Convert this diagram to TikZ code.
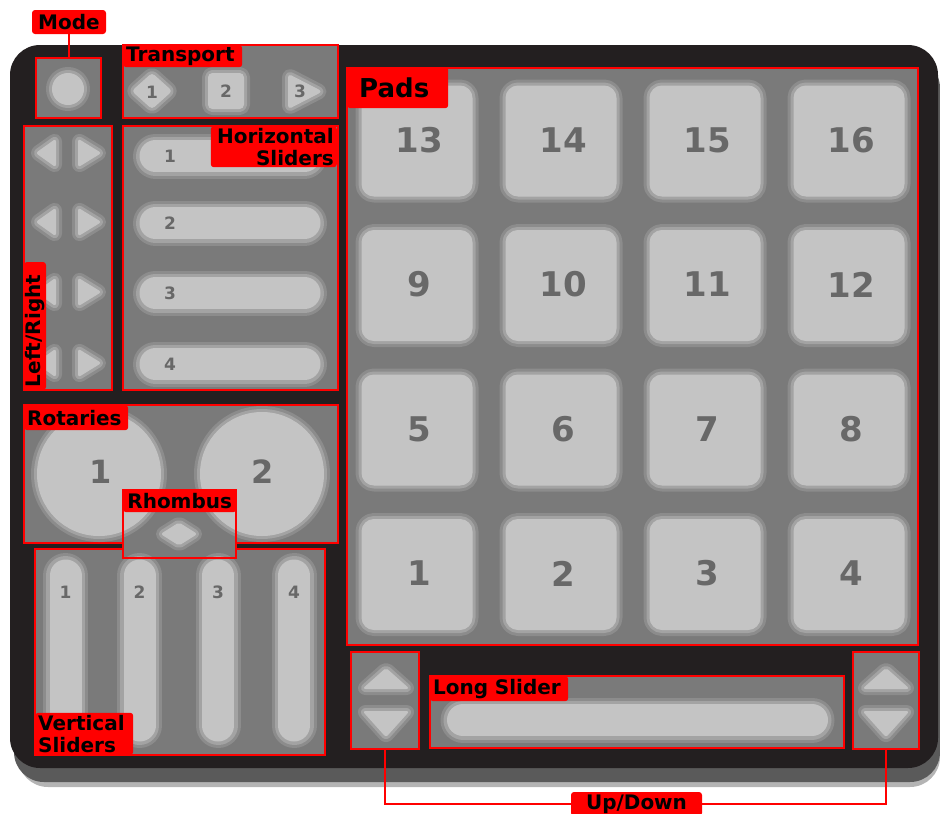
\documentclass[tikz,border=0pt]{standalone}
\usepackage{fontspec}
\setmainfont{DejaVu Sans}
\usetikzlibrary{fit}
\definecolor{bodyc}{HTML}{231F20}
\definecolor{shadowc}{HTML}{5A5A5A}
\definecolor{shadowl}{HTML}{B4B4B4}
\definecolor{panelc}{HTML}{7A7A7A}
\definecolor{ringA}{HTML}{8C8C8C}
\definecolor{ringB}{HTML}{A3A3A3}
\definecolor{lightc}{HTML}{C4C4C4}
\definecolor{numc}{HTML}{686868}
\definecolor{redc}{HTML}{FF0000}
\newcommand\mylabfont{\fontsize{20}{22}\selectfont\bfseries}
\newcommand\mypadlabfont{\fontsize{26}{28}\selectfont\bfseries}
\newcommand\mypadnumfont{\fontsize{34}{36}\selectfont\bfseries}
\newcommand\myrotnumfont{\fontsize{32}{34}\selectfont\bfseries}
\newcommand\mysmnumfont{\fontsize{17}{19}\selectfont\bfseries}
\newcommand\lay[1]{\path[layA] #1; \path[layB] #1; \path[layC] #1;}
\newcommand\stad[2]{\draw[stA] #1 -- #2; \draw[stB] #1 -- #2; \draw[stC] #1 -- #2;}
\begin{document}
\begin{tikzpicture}[x=1pt,y=-1pt,
  panel/.style={fill=panelc, draw=none, inner sep=0pt, outer sep=0pt},
  redline/.style={draw=redc, line width=2.3pt},
  lab/.style={fill=redc, rounded corners=3pt, inner xsep=3pt, inner ysep=0pt, font=\mylabfont, text=black},
  layA/.style={fill=ringA, draw=ringA, line width=13pt, line join=round},
  layB/.style={fill=ringB, draw=ringB, line width=7pt, line join=round},
  layC/.style={fill=lightc, draw=lightc, line width=1pt, line join=round},
  stA/.style={draw=ringA, line width=45pt, line cap=round},
  stB/.style={draw=ringB, line width=39pt, line cap=round},
  stC/.style={draw=lightc, line width=32pt, line cap=round},
  padnum/.style={text=numc, font=\mypadnumfont, inner sep=0pt},
  rotnum/.style={text=numc, font=\myrotnumfont, inner sep=0pt},
  smnum/.style={text=numc, font=\mysmnumfont, inner sep=0pt}]
\useasboundingbox (0,0) rectangle (940,814);
% body and shadow
\fill[shadowl, rounded corners=30pt] (18,62) rectangle (940,787);
\fill[shadowc, rounded corners=30pt] (14,58) rectangle (940,782);
\fill[bodyc, rounded corners=30pt] (10,45) rectangle (938,768);
% panels
\node[panel, fit={(36,58) (101,118)}] (modebox) {};
\node[panel, fit={(123,45) (338,118)}] (transbox) {};
\node[panel, fit={(24,126) (112,390)}] (lrbox) {};
\node[panel, fit={(123,126) (338,390)}] (hsbox) {};
\node[panel, fit={(24,405) (338,543)}] (rotbox) {};
\node[panel, fit={(35,549) (325,755)}] (vsbox) {};
\node[panel, fit={(347,68) (918,645)}] (padsbox) {};
\node[panel, fit={(351,652) (419,749)}] (udl) {};
\node[panel, fit={(430,676) (844,748)}] (lsbox) {};
\node[panel, fit={(853,652) (919,749)}] (udr) {};
\foreach \n in {modebox,transbox,lrbox,hsbox,rotbox,vsbox,padsbox,udl,lsbox,udr}
  \draw[redline] (\n.north west) rectangle (\n.south east);
\node[panel, fit={(123,490) (236,558)}] (rhbox) {};
% mode button
\lay{(68,89) circle[radius=15.5]}
% transport
\lay{[rounded corners=3pt] (132.5,91) -- (152,73.5) -- (171.5,91) -- (152,108.5) -- cycle}
\lay{[rounded corners=4pt] (208.5,73.5) rectangle (243.5,108.5)}
\lay{[rounded corners=3pt] (288.5,74.5) -- (321.5,91.5) -- (288.5,108.5) -- cycle}
\node[smnum] (t1) at (152,92) {1};
\node[smnum] (t2) at (226,91) {2};
\node[smnum] (t3) at (300,91) {3};
% left/right arrows
\foreach \y in {153,222,292,363}{
  \lay{[rounded corners=2pt] (36.5,\y) -- (55.5,{\y-13.5}) -- (55.5,{\y+13.5}) -- cycle}
  \lay{[rounded corners=2pt] (100.5,\y) -- (78.5,{\y-13.5}) -- (78.5,{\y+13.5}) -- cycle}
}
% horizontal sliders
\foreach \y/\k in {156/1,223/2,293/3,364/4}{
  \stad{(155.5,\y)}{(304.5,\y)}
  \node[smnum] (hs\k) at (170,\y) {\k};
}
% rotaries
\lay{(99,474) circle[radius=61.5]}
\lay{(262,474) circle[radius=61.5]}
\node[rotnum] (r1) at (101,472) {1};
\node[rotnum] (r2) at (263,472) {2};
% rhombus
\lay{[rounded corners=2pt] (161.5,534) -- (179,523) -- (196.5,534) -- (179,545) -- cycle}
% vertical sliders
\foreach \x/\k in {65.5/1,139.5/2,218/3,294/4}{
  \stad{(\x,575.5)}{(\x,725.5)}
  \node[smnum] (vs\k) at (\x,592) {\k};
}
% pads
\foreach \r/\y in {0/141,1/285.5,2/430,3/574.5}{
  \foreach \c/\x in {0/417,1/561,2/705,3/849}{
    \pgfmathtruncatemacro\n{(3-\r)*4+\c+1}
    \lay{[rounded corners=12pt] ({\x-55},{\y-55}) rectangle ({\x+55},{\y+55})}
    \node[padnum] (pad\n) at ({\x+2},{\y-1}) {\n};
  }
}
% up/down
\foreach \x in {386,886}{
  \lay{[rounded corners=2pt] ({\x-22.5},688.5) -- (\x,668.5) -- ({\x+22.5},688.5) -- cycle}
  \lay{[rounded corners=2pt] ({\x-22.5},711.5) -- ({\x+22.5},711.5) -- (\x,736.5) -- cycle}
}
% long slider
\stad{(463,720)}{(812,720)}
% rhombus border
\draw[redline] (rhbox.north west) rectangle (rhbox.south east);
% labels
\node[lab, minimum width=74pt, minimum height=24pt] (modelab) at (69,22) {Mode};
\draw[redline] (modelab.south) -- (modelab.south |- modebox.north);
\node[lab, anchor=north west, minimum height=22pt, text width=113pt, align=left] (translab) at (123,45) {Transport};
\node[lab, anchor=north east, minimum height=41pt, text width=120pt, align=right] (hslab) at (337,126) {Horizontal\\Sliders};
\node[lab, rotate=90, minimum height=22pt, text width=122pt, align=left] (lrlab) at (35,326) {Left/Right};
\node[lab, anchor=north west, minimum height=25pt, text width=98pt, align=left] (rotlab) at (24,405) {Rotaries};
\node[lab, anchor=north west, minimum height=22pt, text width=107pt, align=center] (rhlab) at (123,490) {Rhombus};
\node[lab, anchor=south west, minimum height=42pt, text width=92pt, align=left] (vslab) at (35,755) {Vertical\\Sliders};
\node[lab, anchor=north west, font=\mypadlabfont, inner xsep=12pt, minimum height=41pt, text width=77pt, align=left] (padslab) at (347,67) {Pads};
\node[lab, anchor=north west, minimum height=25pt, text width=132pt, align=left] (lslab) at (430,676) {Long Slider};
\node[lab, minimum width=131pt, minimum height=24pt] (udlab) at (636.5,804) {Up/Down};
\draw[redline] (udl.south) |- (udlab.west);
\draw[redline] (udr.south) |- (udlab.east);
\end{tikzpicture}
\end{document}
